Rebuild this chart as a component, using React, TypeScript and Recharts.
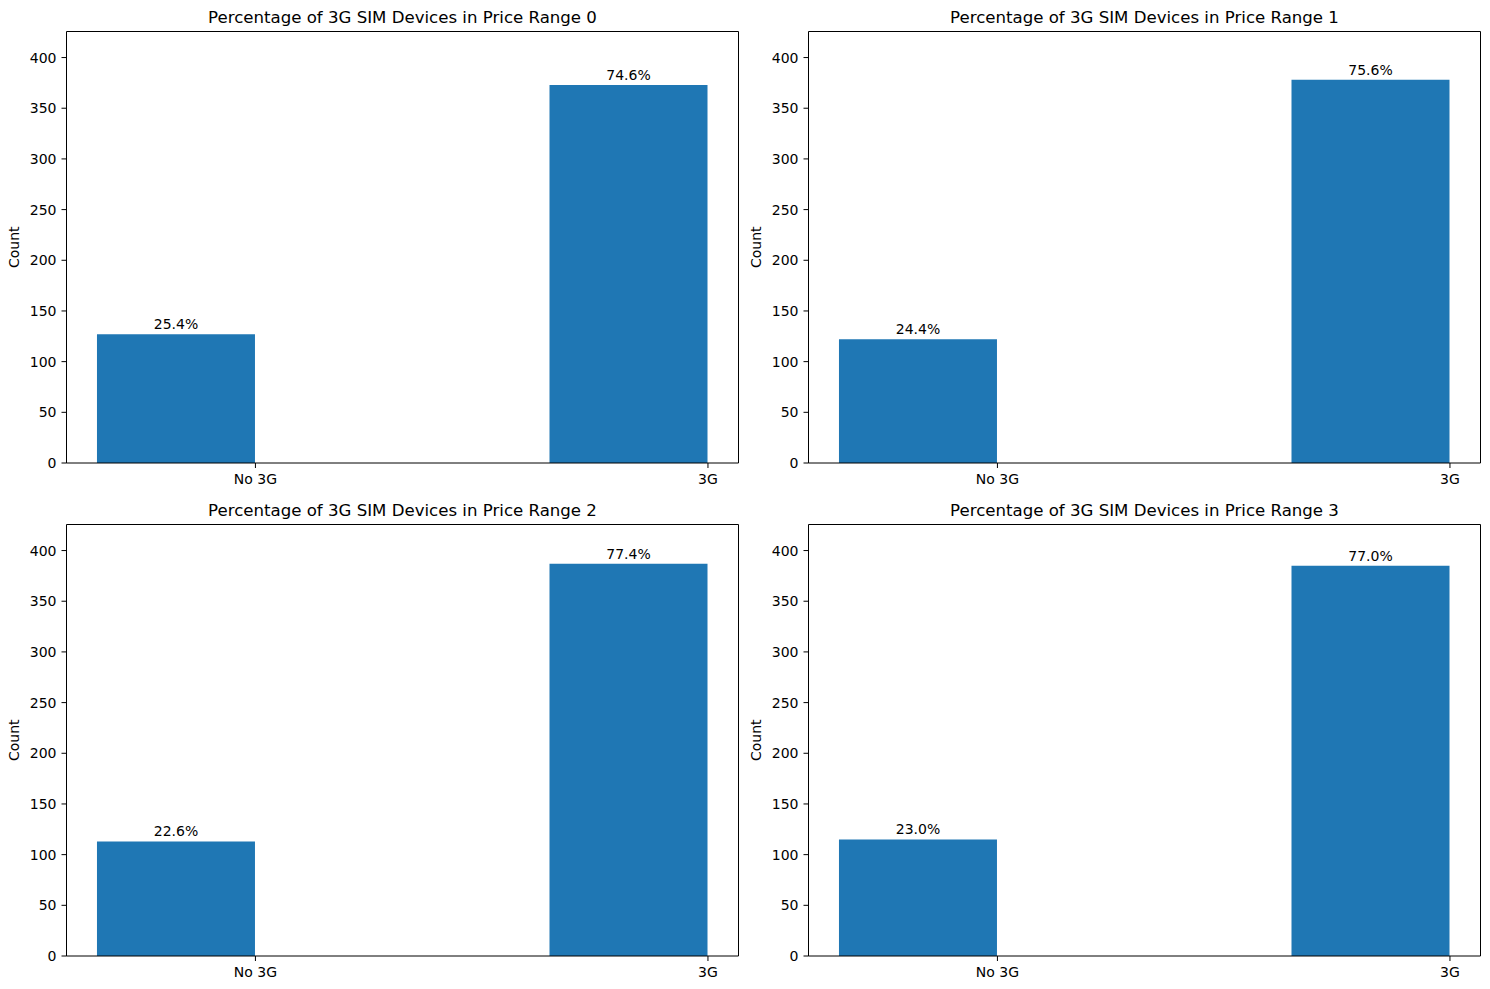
import React from 'react'
import { BarChart, Bar, XAxis, YAxis, LabelList, ReferenceLine } from 'recharts'

const categories = ['No 3G', '3G']
const priceRanges = [0, 1, 2, 3]
const no3gCounts = [127, 122, 113, 115]
const with3gCounts = [373, 378, 387, 385]
const yTicks = [0, 50, 100, 150, 200, 250, 300, 350, 400]

const BAR_WIDTH = 0.35
const allCounts = [...no3gCounts, ...with3gCounts]
const yMax = Math.max(...allCounts) * 1.1
// matplotlib style 5% x margins around bars spanning [-0.35, 1]
const xPad = (categories.length - 1 + BAR_WIDTH) * 0.05
const xDomain = [-BAR_WIDTH - xPad, categories.length - 1 + xPad]

const PANEL_W = 745
const PANEL_H = 493
const FONT = "'DejaVu Sans', sans-serif"
const TICK_FONT = 14

function CountLabel(props: any) {
  const vb = props.viewBox || {}
  const cy = vb.y + vb.height / 2
  return (
    <text x={19} y={cy} transform={`rotate(-90, 19, ${cy})`} textAnchor="middle" fill="#000" fontSize={TICK_FONT}>
      Count
    </text>
  )
}

function Panel({ range }: { range: number }) {
  const counts = [no3gCounts[range], with3gCounts[range]]
  const total = counts[0] + counts[1]
  const data = categories.map((name, i) => ({
    name,
    x: i - BAR_WIDTH / 2,
    count: counts[i],
    pct: `${((counts[i] / total) * 100).toFixed(1)}%`,
  }))

  return (
    <div style={{ position: 'relative', width: PANEL_W, height: PANEL_H }}>
      <div
        style={{
          position: 'absolute',
          left: 66.5,
          width: 672,
          top: 8,
          textAlign: 'center',
          fontSize: 16.6,
          lineHeight: '20px',
          color: '#000',
        }}
      >
        Percentage of 3G SIM Devices in Price Range {range}
      </div>
      <BarChart width={PANEL_W} height={PANEL_H} data={data} margin={{ top: 31.5, right: 6.5, bottom: 0, left: 0 }}>
        <XAxis
          type="number"
          dataKey="x"
          domain={xDomain}
          allowDataOverflow
          ticks={[0, 1]}
          tickFormatter={(v: number) => categories[v] ?? ''}
          height={30}
          axisLine={{ stroke: '#000' }}
          tickLine={{ stroke: '#000' }}
          tickSize={5}
          tickMargin={6}
          tick={{ fill: '#000', fontSize: TICK_FONT }}
        />
        <YAxis
          type="number"
          domain={[0, yMax]}
          allowDataOverflow
          ticks={yTicks}
          width={66.5}
          axisLine={{ stroke: '#000' }}
          tickLine={{ stroke: '#000' }}
          tickSize={5}
          tickMargin={5}
          tick={{ fill: '#000', fontSize: TICK_FONT }}
          label={<CountLabel />}
        />
        <Bar dataKey="count" fill="#1f77b4" barSize={158} isAnimationActive={false}>
          <LabelList dataKey="pct" position="top" offset={5} fill="#000" fontSize={TICK_FONT} />
        </Bar>
        <ReferenceLine y={yMax} stroke="#000" strokeWidth={1} ifOverflow="visible" />
        <ReferenceLine x={xDomain[1]} stroke="#000" strokeWidth={1} ifOverflow="visible" />
      </BarChart>
    </div>
  )
}

export default function App() {
  return (
    <div
      style={{
        position: 'absolute',
        left: 0,
        top: 0,
        width: 1490,
        height: 989,
        background: '#fff',
        fontFamily: FONT,
      }}
    >
      {priceRanges.map((r) => (
        <div
          key={r}
          style={{
            position: 'absolute',
            left: (r % 2) * 742,
            top: Math.floor(r / 2) * 493,
          }}
        >
          <Panel range={r} />
        </div>
      ))}
    </div>
  )
}
